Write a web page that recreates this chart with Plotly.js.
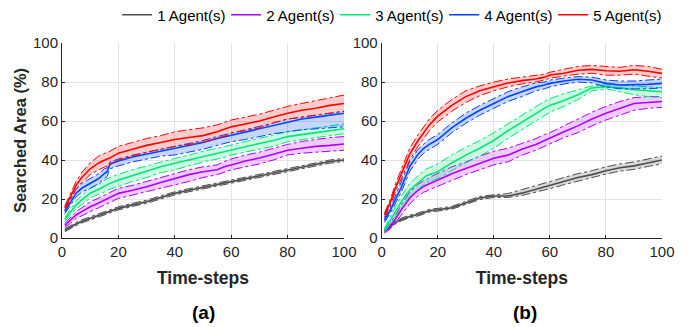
<!DOCTYPE html>
<html>
<head>
<meta charset="utf-8">
<script src="https://cdn.plot.ly/plotly-3.0.1.min.js"></script>
<style>html,body{margin:0;padding:0;background:#fff;}#chart{width:689px;height:327px;}</style>
</head>
<body>
<div id="chart"></div>
<script>
// Time steps sampled from the chart
const timeSteps = [1,3,5,7,10,13,15,16,17,20,25,30,35,40,45,50,55,58,60,65,70,75,80,85,90,95,100];
const seriesNames = ["1 Agent(s)","2 Agent(s)","3 Agent(s)","4 Agent(s)","5 Agent(s)"];

// ---- Panel (a) ----
const a1Mean  = [4,5.8,7.2,8.5,10.1,11.8,12.7,13.1,13.6,15.2,17,18.6,20.8,22.9,24.5,26,27.5,28.3,28.9,30.5,32,33.5,34.9,36.3,37.8,39.2,40];
const a1Upper = [4.8,6.6,8,9.3,10.9,12.6,13.5,13.9,14.4,16,17.8,19.4,21.6,23.7,25.3,26.8,28.3,29.1,29.7,31.3,32.8,34.3,35.7,37.1,38.6,40,40.8];
const a1Lower = [3.2,5,6.4,7.7,9.3,11,11.9,12.3,12.8,14.4,16.2,17.8,20,22.1,23.7,25.2,26.7,27.5,28.1,29.7,31.2,32.7,34.1,35.5,37,38.4,39.2];

const a2Mean  = [6.5,9,11.8,13.5,16,18,19.5,20,20.8,22.9,24.5,26.3,28.5,30.6,32.5,34,35,36.8,37.4,39.5,41,43,45,46,47,47.5,48.2];
const a2Upper = [7.5,10.5,13.5,15.5,18.5,20.5,22,22.5,23.3,25.5,27,29,31,33,35,36.5,37.5,39.5,40.5,42.5,44,46,48,49.5,50.5,51.5,52];
const a2Lower = [5.5,7.5,10,11.5,13.5,15.5,17,17.5,18.3,20.3,22,23.5,25.5,27,29,31,32.5,34,34.9,36.5,38,40,42.6,43.5,44,44.5,45];

const a3Mean  = [9.5,13,17,19.5,23,25,26.5,27.5,28,29.7,32,34,36.5,38.3,40,42,43.5,44.5,45.1,47,48.5,50,52,53,54,55,56];
const a3Upper = [10.5,14.5,19,22,25.5,27.5,29.5,30.5,31,32.7,35,37,39,40.8,42.5,44.5,46,47,47.7,49.5,51,52.5,54.5,55.5,56.5,57.5,58.5];
const a3Lower = [8.5,11.5,15,17,20.5,22.5,23.5,24.5,25,26.7,29,31,33.5,35,37,39,40.5,41.5,42.6,44,45.5,47,49.4,50.5,51.5,52.5,53.5];

const a4Mean  = [13.5,18,23,25.5,28,30.5,33,34,38,39.5,41.5,43,44.5,46,47.5,49,51,52,53,54.5,56,58,59.7,61,62,63,64];
const a4Upper = [14.5,19.5,25,28,30.5,33,35.5,36,39,40.5,42.5,44,45.5,47,48.5,50,52,53,54,55.5,57,59,61,62,63,64,65];
const a4Lower = [12.5,16.5,21,23.5,25.5,28,30.5,31.5,35.5,37,39,40.5,42,42.6,44,45.5,47.5,48.5,49.4,50.5,52,53.5,54.5,55.5,56,56.5,57];

const a5Mean  = [15.5,21,27,31,35.5,38.5,40,40.5,41,43.5,45.5,47.5,49,50.5,51.5,52.5,54.5,55.8,57,58.5,60,62,64,65.5,66.5,68,69];
const a5Upper = [16.5,22.5,29,33.5,38.5,42,43.5,44,44.5,47,49,51,52.5,54.5,55.5,56.5,58,59.5,60.5,62,63.5,65.5,67.5,69,70.5,72,73.3];
const a5Lower = [14.5,19.5,25,28.5,32.5,35,36.5,37,37.5,40,42,44,45.5,47,48,49,51,52.5,54,55,56.5,59,61,62,63,64,65];

// ---- Panel (b) ----
const b1Mean  = [3.5,6,8,9.5,11,12,13,13.5,14,14.5,15.5,18,20.5,21.5,21.5,23,25,26,27,29,31,32.5,34.5,36,37,38.5,40];
const b1Upper = [4,6.7,8.7,10.2,11.7,12.7,13.7,14.2,14.7,15.2,16.2,18.8,21.3,22.2,22.8,24.8,27,28,29,31,33,34.5,36.5,38,39,40.5,42];
const b1Lower = [3,5.3,7.3,8.8,10.3,11.3,12.3,12.8,13.3,13.8,14.8,17.2,19.7,20.8,20.8,21.8,23.5,24.5,25.3,27.3,29.2,30.8,32.8,34.3,35.2,36.7,38];

const b2Mean  = [3.5,6,10,14.5,20.5,24.5,26.5,27,27.8,29.7,33,35.7,38.5,40.9,42.5,45.5,48,50,51,54.5,57.5,61,64,66.5,69,69.5,70];
const b2Upper = [4.5,7.5,12,17,23.5,27.5,29.5,30,31,33,36.5,39,42,44.5,46,48.5,51,53,54,57.5,61,64.5,67.5,70,72,72.5,72.5];
const b2Lower = [2.5,4.5,8,12,17.5,21.5,23.5,24,24.8,26.5,29.5,32.5,35,37.5,39,42.5,45,47,48,51.5,54,57.5,60.5,63,65.5,66.5,67];

const b3Mean  = [4,9,14,18.5,24.6,28.5,31,32,32.5,34,38.5,42.5,46,50,55,59.5,64,66.5,68,70.5,73.5,77,77.6,77,76,75.5,75];
const b3Upper = [5,11,16.5,21.5,28,32,34.5,35.5,36,38,42.5,46.5,50,54,58.5,63,67.5,70,71.5,74,76,78,78.5,78.5,78,77.5,77];
const b3Lower = [3,7,11.5,15.5,21.5,25,27.5,28.5,29,30.5,34.5,38.5,42,46,51,55.5,60,62.5,64.5,67.5,71,75.5,76.5,75,73.5,72.5,72];

const b4Mean  = [9,14,20,26,36.6,43,46,47,48,50.5,56.5,61.4,65.5,69,72.5,75,77.5,78.5,79.3,80.5,81.4,81,79.3,78.5,78.5,78.8,79.3];
const b4Upper = [10,15.5,22,28.5,39,45.5,48.5,49.5,50.5,53,59,64,68,71.5,75,77.5,79.5,80,81,82,82.8,82.5,81,80.5,80.5,81,81.5];
const b4Lower = [8,12.5,18,23.5,34,40.5,43.5,44.5,45.5,48,54,58.8,63,66.5,70,72.5,75.5,76.5,77.5,79,80,79.5,77.5,76.5,76.5,76.5,77];

const b5Mean  = [11.8,18,26,33,43,50,54,56,58,62.5,68,72.5,75.5,77.6,79.5,80.7,81.5,82.5,83.6,84.5,86,86.5,85.8,85.5,86.3,85.5,84.4];
const b5Upper = [12.8,19.5,28,35.5,46,53,57,59,61,65.5,71,75.5,78,80,81.5,82.5,83.5,84,85,86.5,88,88.5,88,87.5,88.5,88,86.5];
const b5Lower = [10.8,16.5,24,30.5,40,47,51,53,55,59.5,65,69.5,73,75.5,77.5,79,80,81,82,83,84,84.5,83.5,83.5,84,83,82];

const xTicks = [0,20,40,60,80,100];
const yTicks = [0,20,40,60,80,100];

const colors = ["#4d4d4d","#b000ff","#00e676","#0044ff","#ff0000"];
const fills  = ["rgba(77,77,77,0.22)","rgba(176,0,255,0.2)","rgba(0,230,118,0.2)","rgba(0,68,255,0.22)","rgba(255,0,0,0.2)"];

const panelA = [[a1Mean,a1Upper,a1Lower],[a2Mean,a2Upper,a2Lower],[a3Mean,a3Upper,a3Lower],[a4Mean,a4Upper,a4Lower],[a5Mean,a5Upper,a5Lower]];
const panelB = [[b1Mean,b1Upper,b1Lower],[b2Mean,b2Upper,b2Lower],[b3Mean,b3Upper,b3Lower],[b4Mean,b4Upper,b4Lower],[b5Mean,b5Upper,b5Lower]];

const traces = [];
function addPanel(panel, xa, ya, showLeg) {
  panel.forEach((s, i) => {
    const [m, up, lo] = s;
    traces.push({x: timeSteps, y: up, xaxis: xa, yaxis: ya, mode: 'lines', type: 'scatter',
      line: {color: colors[i], width: 1, dash: 'dashdot'}, showlegend: false, hoverinfo: 'skip', legendgroup: 'g'+i});
    traces.push({x: timeSteps, y: lo, xaxis: xa, yaxis: ya, mode: 'lines', type: 'scatter',
      line: {color: colors[i], width: 1, dash: 'dashdot'}, fill: 'tonexty', fillcolor: fills[i],
      showlegend: false, hoverinfo: 'skip', legendgroup: 'g'+i});
    traces.push({x: timeSteps, y: m, xaxis: xa, yaxis: ya, mode: 'lines', type: 'scatter',
      line: {color: colors[i], width: 1.6}, name: seriesNames[i], showlegend: showLeg, legendgroup: 'g'+i});
  });
}
addPanel(panelA, 'x', 'y', true);
addPanel(panelB, 'x2', 'y2', false);

const font = "Liberation Sans, Arial, Helvetica, sans-serif";
const axCommon = {
  range: [0, 100], showgrid: true, gridcolor: '#e3e3e3', gridwidth: 1,
  showline: true, linecolor: '#262626', linewidth: 1, mirror: false,
  ticks: 'inside', ticklen: 3, tickcolor: '#262626', zeroline: false,
  tickfont: {family: font, size: 15, color: '#262626'}
};
const xTitle = {text: 'Time-steps', font: {family: font, size: 17.5, color: '#262626', weight: 'bold'}, standoff: 12};

const layout = {
  width: 689, height: 327,
  margin: {l: 62, r: 27, t: 43, b: 89, autoexpand: false},
  paper_bgcolor: '#fff', plot_bgcolor: '#fff',
  showlegend: true,
  legend: {orientation: 'h', xref: 'container', yref: 'container', x: 0.170, xanchor: 'left', y: 0.954, yanchor: 'middle',
    entrywidth: 64, entrywidthmode: 'pixels',
    font: {family: font, size: 15, color: '#000'}, itemwidth: 30, tracegroupgap: 0, bgcolor: 'rgba(0,0,0,0)'},
  xaxis: Object.assign({}, axCommon, {domain: [0, 0.47], tickvals: xTicks, title: xTitle, anchor: 'y'}),
  yaxis: Object.assign({}, axCommon, {domain: [0, 1], tickvals: yTicks, anchor: 'x',
    title: {text: 'Searched Area (%)', font: {family: font, size: 16.5, color: '#262626', weight: 'bold'}, standoff: 2}}),
  xaxis2: Object.assign({}, axCommon, {domain: [0.5328, 1], tickvals: xTicks, title: xTitle, anchor: 'y2'}),
  yaxis2: Object.assign({}, axCommon, {domain: [0, 1], tickvals: yTicks, anchor: 'x2'}),
  annotations: [
    {text: '(a)', xref: 'paper', yref: 'paper', x: 0.235, y: -0.38, showarrow: false,
      font: {family: font, size: 19, color: '#000', weight: 'bold'}, xanchor: 'center', yanchor: 'middle'},
    {text: '(b)', xref: 'paper', yref: 'paper', x: 0.772, y: -0.38, showarrow: false,
      font: {family: font, size: 19, color: '#000', weight: 'bold'}, xanchor: 'center', yanchor: 'middle'}
  ]
};

Plotly.newPlot('chart', traces, layout, {displayModeBar: false, staticPlot: true});
</script>
</body>
</html>
